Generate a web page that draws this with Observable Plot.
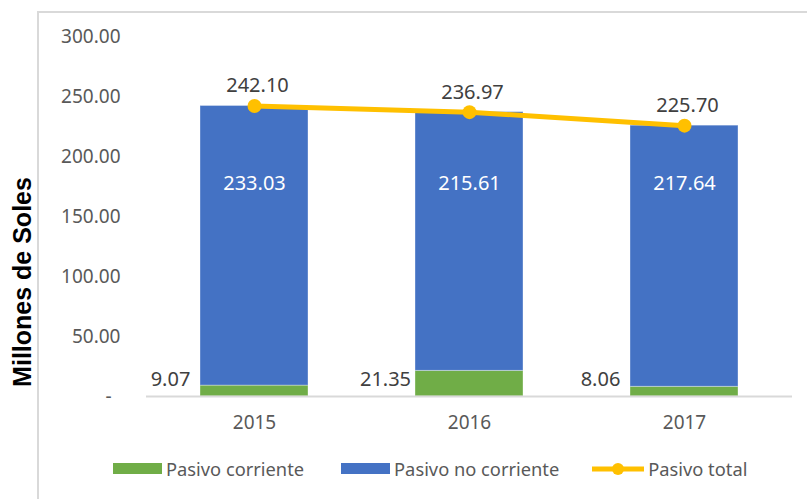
<!DOCTYPE html>
<html>
<head>
<meta charset="utf-8">
<script src="https://cdn.jsdelivr.net/npm/d3@7"></script>
<script src="https://cdn.jsdelivr.net/npm/@observablehq/plot@0.6"></script>
<style>
  html, body { margin: 0; padding: 0; background: #fff; }
  #wrap { position: relative; width: 807px; height: 499px; overflow: hidden; font-family: "Noto Sans", sans-serif; }
  #frame { position: absolute; left: 37px; top: 11px; width: 800px; height: 500px; border-left: 2px solid #d9d9d9; border-top: 2px solid #d9d9d9; box-sizing: border-box; }
  #chart { position: absolute; left: 0; top: 0; }
  #ytitle { position: absolute; left: 22px; top: 282px; transform: translate(-50%, -50%) rotate(-90deg); font-family: "Liberation Sans", Arial, sans-serif; font-weight: bold; font-size: 25px; color: #000; white-space: nowrap; }
  #legend { position: absolute; left: 113px; top: 456px; display: flex; align-items: center; font-size: 18.3px; color: #595959; white-space: nowrap; }
  .item { display: flex; align-items: center; }
  .sw { width: 49px; height: 11px; margin-right: 4px; }
</style>
</head>
<body>
<div id="wrap">
  <div id="frame"></div>
  <div id="chart"></div>
  <div id="ytitle">Millones de Soles</div>
  <div id="legend"></div>
</div>
<script>
const years = ["2015", "2016", "2017"];
const pasivoCorriente = [9.07, 21.35, 8.06];
const pasivoNoCorriente = [233.03, 215.61, 217.64];
const pasivoTotal = [242.10, 236.97, 225.70];
const yTicks = [0, 50, 100, 150, 200, 250, 300];
const seriesNames = ["Pasivo corriente", "Pasivo no corriente", "Pasivo total"];
const colors = ["#70AD47", "#4472C4", "#FFC000"];

const stacked = [];
years.forEach((yr, i) => {
  stacked.push({year: yr, serie: seriesNames[0], value: pasivoCorriente[i]});
  stacked.push({year: yr, serie: seriesNames[1], value: pasivoNoCorriente[i]});
});
const corr = years.map((yr, i) => ({year: yr, value: pasivoCorriente[i]}));
const noCorr = years.map((yr, i) => ({year: yr, value: pasivoNoCorriente[i]}));
const tot = years.map((yr, i) => ({year: yr, value: pasivoTotal[i]}));

const plot = Plot.plot({
  width: 807,
  height: 440,
  marginLeft: 146,
  marginRight: 15,
  marginTop: 36,
  marginBottom: 44,
  style: {fontFamily: "Noto Sans", fontSize: "19px", color: "#595959", background: "transparent"},
  x: {domain: years, padding: 0.5, paddingOuter: 0.25, label: null},
  y: {domain: [0, 300], label: null},
  color: {domain: seriesNames.slice(0, 2), range: colors.slice(0, 2)},
  marks: [
    Plot.barY(stacked, {x: "year", y: "value", fill: "serie", order: seriesNames.slice(0, 2), stroke: "#ffffff", strokeOpacity: 0.35, strokeWidth: 1}),
    Plot.ruleY([0], {stroke: "#d9d9d9", strokeWidth: 2}),
    Plot.axisX({tickSize: 0, tickPadding: 19, fill: "#595959", fontSize: 19, label: null}),
    Plot.axisY({ticks: yTicks, tickFormat: d => d === 0 ? "" : d.toFixed(2), tickSize: 0, tickPadding: 26, fill: "#595959", fontSize: 19, label: null}),
    Plot.text([0], {y: d => d, frameAnchor: "left", text: () => "-", dx: -41, fill: "#595959", fontSize: 19}),
    Plot.line(tot, {x: "year", y: "value", stroke: colors[2], strokeWidth: 5}),
    Plot.dot(tot, {x: "year", y: "value", r: 7, fill: colors[2]}),
    Plot.text(tot, {x: "year", y: "value", text: d => d.value.toFixed(2), dy: -20, dx: 3, fill: "#404040", fontSize: 20}),
    Plot.text(noCorr, {x: "year", frameAnchor: "middle", text: d => d.value.toFixed(2), dy: -33, fill: "#ffffff", fontSize: 20}),
    Plot.text(corr, {x: "year", frameAnchor: "bottom", text: d => d.value.toFixed(2), dy: -11, dx: -84, fill: "#404040", fontSize: 20})
  ]
});
document.getElementById("chart").appendChild(plot);

const legend = document.getElementById("legend");
seriesNames.forEach((name, i) => {
  const item = document.createElement("div");
  item.className = "item";
  if (i > 0) item.style.marginLeft = (i === 1 ? 37 : 33) + "px";
  if (i < 2) {
    const sw = document.createElement("div");
    sw.className = "sw";
    sw.style.background = colors[i];
    item.appendChild(sw);
  } else {
    const ns = "http://www.w3.org/2000/svg";
    const svg = document.createElementNS(ns, "svg");
    svg.setAttribute("width", 52); svg.setAttribute("height", 14);
    svg.style.marginRight = "4px";
    const ln = document.createElementNS(ns, "line");
    ln.setAttribute("x1", 0); ln.setAttribute("x2", 52); ln.setAttribute("y1", 7); ln.setAttribute("y2", 7);
    ln.setAttribute("stroke", colors[2]); ln.setAttribute("stroke-width", 5);
    const c = document.createElementNS(ns, "circle");
    c.setAttribute("cx", 26); c.setAttribute("cy", 7); c.setAttribute("r", 6); c.setAttribute("fill", colors[2]);
    svg.appendChild(ln); svg.appendChild(c);
    item.appendChild(svg);
  }
  const t = document.createElement("span");
  t.textContent = name;
  item.appendChild(t);
  legend.appendChild(item);
});
</script>
</body>
</html>
